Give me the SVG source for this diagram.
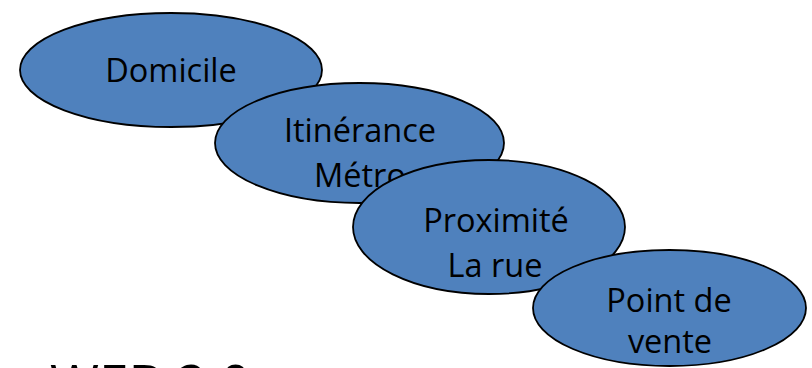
<svg xmlns="http://www.w3.org/2000/svg" width="812" height="368" viewBox="0 0 812 368">
<style>
.node ellipse{fill:#4F81BD;stroke:#000;stroke-width:1.8}
.node text,.title{font-family:"Open Sans","Noto Sans",sans-serif;fill:#000;text-anchor:middle}
.node text{font-size:32.5px}
.title{font-size:53px;text-anchor:start}
</style>
<rect width="812" height="368" fill="#fff"/>
<text class="title" x="50" y="403">WEB 2.0</text>
<g id="domicile" class="node">
<ellipse cx="171" cy="70" rx="151" ry="57"/>
<text x="171" y="82">Domicile</text>
</g>
<g id="itinerance" class="node">
<ellipse cx="359.5" cy="143" rx="144.5" ry="60"/>
<text x="360" y="142">Itinérance</text>
<text x="360" y="187">Métro</text>
</g>
<g id="proximite" class="node">
<ellipse cx="489" cy="227" rx="136" ry="67"/>
<text x="496" y="232">Proximité</text>
<text x="495" y="277">La rue</text>
</g>
<g id="point-de-vente" class="node">
<ellipse cx="669.5" cy="308" rx="136.5" ry="58"/>
<text x="669" y="312">Point de</text>
<text x="670" y="353">vente</text>
</g>
</svg>
